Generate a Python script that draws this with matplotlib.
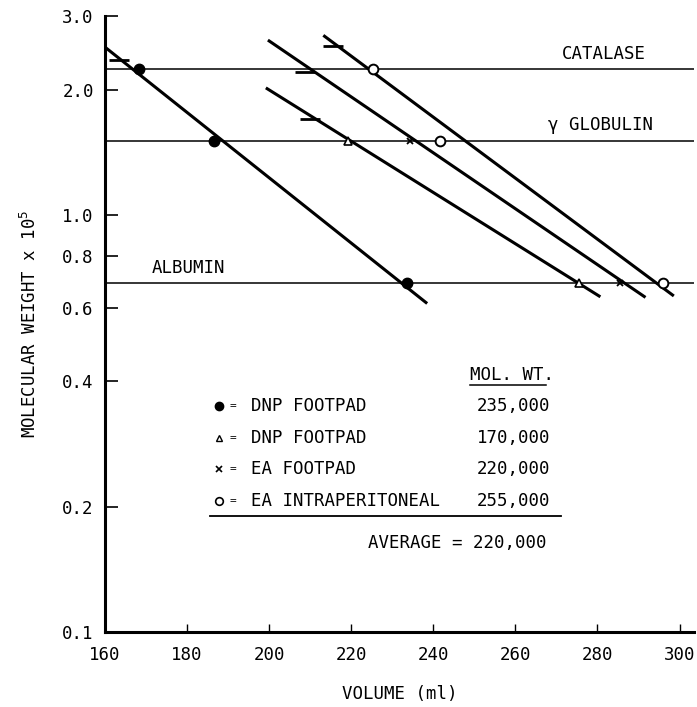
import numpy as np
import matplotlib
matplotlib.use("Agg")
import matplotlib.pyplot as plt
from matplotlib.ticker import FixedLocator, NullLocator

plt.rcParams["font.family"] = ["DejaVu Sans Mono", "DejaVu Sans"]

# marker standards (molecular weight x 10^5)
standards = ["CATALASE", "γ GLOBULIN", "ALBUMIN"]
standard_mw = [2.24, 1.51, 0.687]

# elution volumes of the standards for each run
filled_vol = [168.4, 186.6, 233.6]
filled_mw = [2.24, 1.51, 0.687]
tri_vol = [219.3, 275.6]
tri_mw = [1.51, 0.687]
cross_vol = [234.4, 285.6]
cross_mw = [1.51, 0.687]
open_vol = [225.4, 241.7, 296.0]
open_mw = [2.24, 1.51, 0.687]

# fitted calibration lines (start / end)
fit_x0 = [160.0, 199.2, 199.7, 213.2]
fit_x1 = [238.5, 280.7, 291.7, 298.6]
fit_y0 = [2.53, 2.02, 2.63, 2.70]
fit_y1 = [0.614, 0.637, 0.635, 0.64]

# antibody peak positions
peak_vol = [163.5, 210.0, 208.8, 215.6]
peak_mw = [2.35, 1.70, 2.20, 2.55]

# table
labels = ["DNP FOOTPAD", "DNP FOOTPAD", "EA FOOTPAD", "EA INTRAPERITONEAL"]
mol_wt = ["235,000", "170,000", "220,000", "255,000"]
average = "220,000"

fig = plt.figure(figsize=(6.97, 7.07), dpi=100)
ax = fig.add_axes([0.1506, 0.106, 0.845, 0.871])
ax.set_yscale("log")
ax.set_xlim(160, 303.5)
ax.set_ylim(0.1, 3.0)

# horizontal reference lines for the standards
for mw in standard_mw:
    ax.axhline(mw, color="black", lw=1.1, zorder=1)

# fitted lines
for x0, x1, y0, y1 in zip(fit_x0, fit_x1, fit_y0, fit_y1):
    ax.plot([x0, x1], [y0, y1], color="black", lw=2.2, solid_capstyle="butt")

ax.plot(peak_vol, peak_mw, ls="none", marker="_", ms=15, mew=2, color="black")

ax.plot(filled_vol, filled_mw, ls="none", marker="o", ms=7.5, color="black", zorder=3)
ax.plot(tri_vol, tri_mw, ls="none", marker="^", ms=6, mfc="white", mec="black",
        mew=1.2, zorder=3)
ax.plot(cross_vol, cross_mw, ls="none", marker="x", ms=4.5, mew=1.3, color="black",
        zorder=3)
ax.plot(open_vol, open_mw, ls="none", marker="o", ms=7, mfc="white", mec="black",
        mew=1.4, zorder=3)

fs = 12.5
ax.text(281.5, 2.43, "CATALASE", ha="center", va="center", fontsize=fs)
ax.text(280.7, 1.65, "γ GLOBULIN", ha="center", va="center", fontsize=fs)
ax.text(171.5, 0.746, "ALBUMIN", ha="left", va="center", fontsize=fs)

# table of molecular weights
row_y = [0.348, 0.292, 0.246, 0.2064]
row_mark = [dict(marker="o", ms=6, mfc="black", mec="black"),
            dict(marker="^", ms=4.5, mfc="white", mec="black", mew=1),
            dict(marker="x", ms=4, mew=1.2, mec="black"),
            dict(marker="o", ms=5.5, mfc="white", mec="black", mew=1.2)]
for y, lab, mw, mk in zip(row_y, labels, mol_wt, row_mark):
    ax.plot([187.9], [y], ls="none", **mk)
    ax.text(191.2, y, "=", ha="center", va="center", fontsize=8)
    ax.text(195.6, y, lab, ha="left", va="center", fontsize=fs)
    ax.text(250.7, y, mw, ha="left", va="center", fontsize=fs)
ax.text(249, 0.413, "MOL. WT.", ha="left", va="center", fontsize=fs)
ax.plot([249, 267.5], [0.392, 0.392], color="black", lw=1.1)
ax.plot([185.6, 271], [0.19, 0.19], color="black", lw=1.3)
ax.text(267.7, 0.1637, "AVERAGE = " + average, ha="right", va="center", fontsize=fs)

# axes styling
for s in ["top", "right"]:
    ax.spines[s].set_visible(False)
for s in ["left", "bottom"]:
    ax.spines[s].set_linewidth(2.2)
ax.yaxis.set_major_locator(FixedLocator([0.1, 0.2, 0.4, 0.6, 0.8, 1.0, 2.0, 3.0]))
ax.yaxis.set_minor_locator(NullLocator())
ax.set_yticklabels(["0.1", "0.2", "0.4", "0.6", "0.8", "1.0", "2.0", "3.0"])
ax.set_xticks(np.arange(160, 301, 20))
ax.tick_params(axis="y", direction="in", length=9, width=1.2, labelsize=fs, pad=8)
ax.tick_params(axis="x", direction="in", length=6, width=1, labelsize=fs, pad=10)
ax.set_xlabel("VOLUME (ml)", fontsize=fs, labelpad=15)
ax.set_ylabel("MOLECULAR WEIGHT x 10$^5$", fontsize=fs, labelpad=16)

fig.savefig("out.png", dpi=100)
